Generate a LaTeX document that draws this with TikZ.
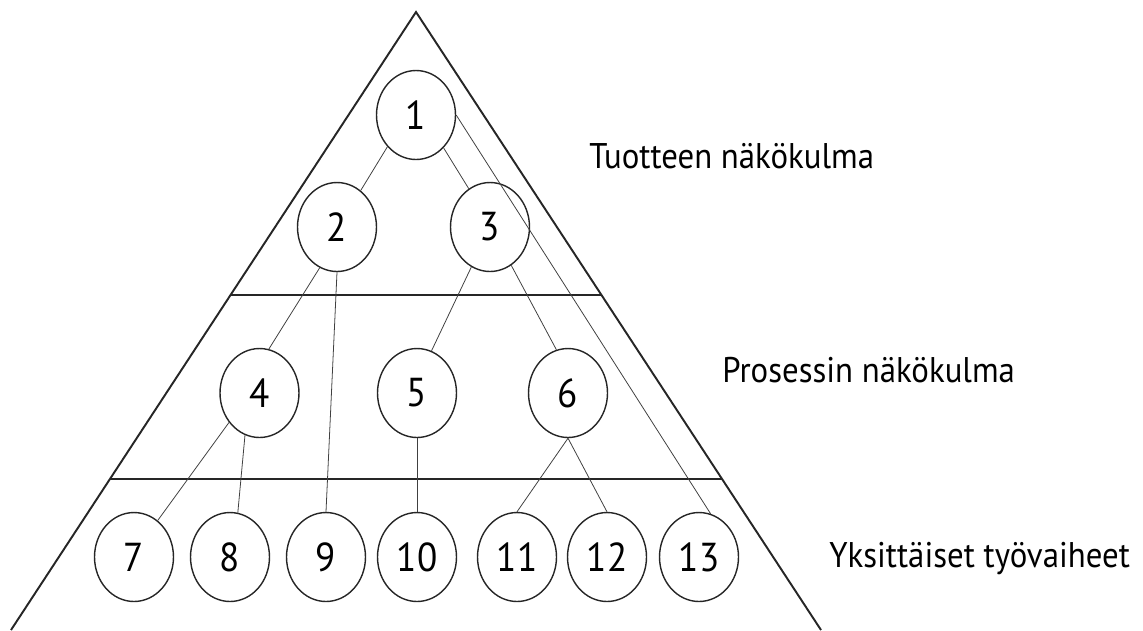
\documentclass[tikz,border=0pt]{standalone}
\usepackage{fontspec}
\setmainfont{PT Sans}[FakeStretch=0.92]
\usetikzlibrary{shapes.geometric}
\begin{document}
\begin{tikzpicture}[x=0.02cm,y=-0.02cm,
  frame/.style={line width=1.1pt,draw=black!85},
  oval/.style={ellipse,draw=black!85,line width=0.8pt,minimum width=1.58cm,minimum height=1.78cm,inner sep=0pt,font=\fontsize{23}{24}\selectfont},
  link/.style={draw=black!75,line width=0.45pt},
  lbl/.style={anchor=base west,inner sep=0pt,font=\fontsize{20.3}{22}\selectfont}]
\useasboundingbox (0,0) rectangle (1143,630);
% pyramid
\coordinate (apex) at (416,12);
\coordinate (bl) at (11,630);
\coordinate (br) at (821,630);
\coordinate (h1l) at (231,295);
\coordinate (h1r) at (601,295);
\coordinate (h2l) at (110,479);
\coordinate (h2r) at (722,479);
\draw[frame] (bl) -- (apex) -- (br);
\draw[frame] (h1l) -- (h1r);
\draw[frame] (h2l) -- (h2r);
% nodes
\node[oval] (n1) at (416,115) {1};
\node[oval] (n2) at (337,227) {2};
\node[oval] (n3) at (490,227) {3};
\node[oval] (n4) at (259.5,393) {4};
\node[oval] (n5) at (417,393) {5};
\node[oval] (n6) at (568,393) {6};
\node[oval] (n7) at (134,557) {7};
\node[oval] (n8) at (230,557) {8};
\node[oval] (n9) at (326,557) {9};
\node[oval] (n10) at (417,557) {10};
\node[oval] (n11) at (517,557) {11};
\node[oval] (n12) at (607,557) {12};
\node[oval] (n13) at (699,557) {13};
% connectors
\draw[link] (n1.228) -- (n2.57);
\draw[link] (n1.310) -- (n3.119);
\draw[link] (n1.east) -- (n13.75);
\draw[link] (n2.247) -- (n4.78);
\draw[link] (n2.south) -- (n9.north);
\draw[link] (n3.245) -- (n5.71);
\draw[link] (n3.299) -- (n6.105);
\draw[link] (n4.224) -- (n7.57);
\draw[link] (n4.251) -- (n8.80);
\draw[link] (n5) -- (n10);
\draw[link] (n6.south) -- (n11.north);
\draw[link] (n6.south) -- (n12.north);
% labels
\node[lbl] (t1) at (589,168) {Tuotteen näkökulma};
\node[lbl] (t2) at (722,382) {Prosessin näkökulma};
\node[lbl] (t3) at (829,567) {Yksittäiset työvaiheet};
\end{tikzpicture}
\end{document}
